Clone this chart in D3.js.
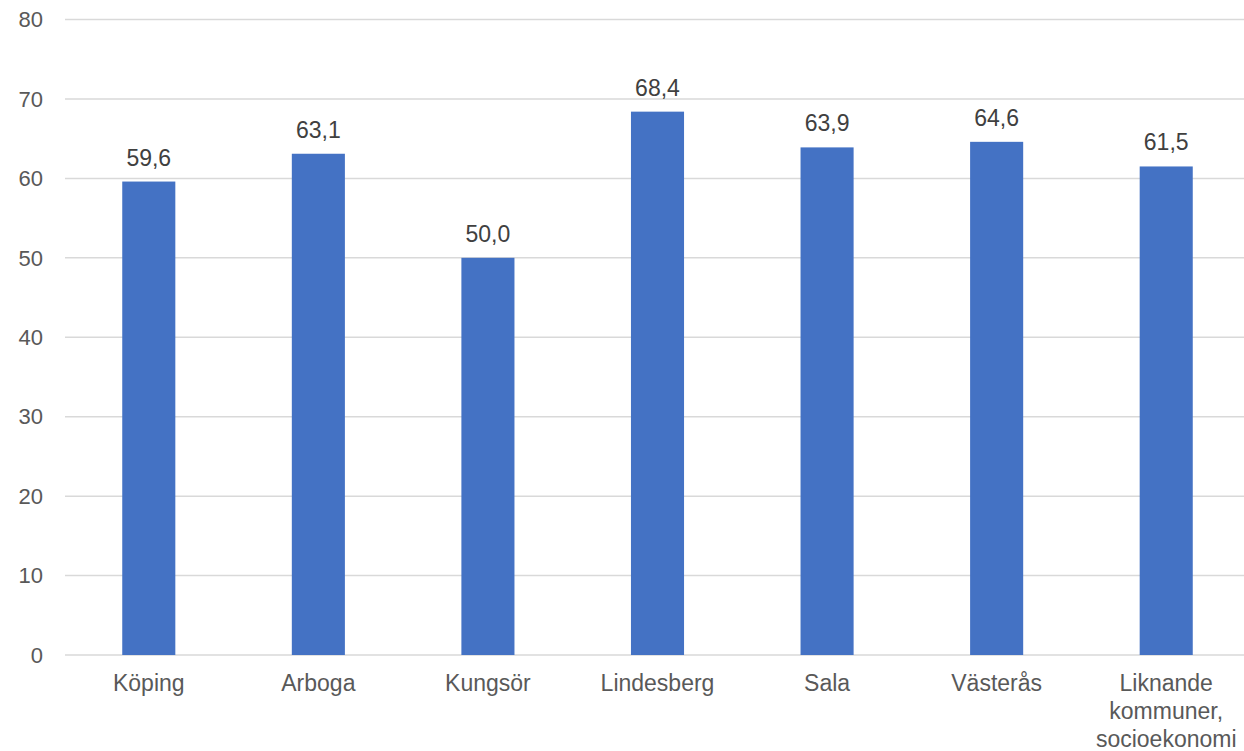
<!DOCTYPE html>
<html>
<head>
<meta charset="utf-8">
<script src="https://cdn.jsdelivr.net/npm/d3@7"></script>
<style>
  body { margin: 0; background: #fff; }
  svg text { font-family: Arial, "Liberation Sans", sans-serif; }
</style>
</head>
<body>
<svg id="chart" width="1244" height="751"></svg>
<script>
// categories and values
const categories = ["Köping", "Arboga", "Kungsör", "Lindesberg", "Sala", "Västerås", "Liknande kommuner, socioekonomi"];
const values = [59.6, 63.1, 50.0, 68.4, 63.9, 64.6, 61.5];
const yTicks = [0, 10, 20, 30, 40, 50, 60, 70, 80];

// category labels are wrapped over lines like in the original
const categoryLines = {
  "Liknande kommuner, socioekonomi": ["Liknande", "kommuner,", "socioekonomi"],
};

const data = categories.map((c, i) => ({ name: c, value: values[i] }));

const svg = d3.select("#chart");

// plot area
const plotLeft = 64, plotRight = 1251, plotTop = 19.5, plotBottom = 655;

const x = d3.scaleBand()
  .domain(categories)
  .range([plotLeft, plotRight])
  .paddingInner(0.687)
  .paddingOuter(0.3435);

const y = d3.scaleLinear()
  .domain([0, 80])
  .range([plotBottom, plotTop]);

// horizontal gridlines
svg.append("g")
  .selectAll("line")
  .data(yTicks)
  .enter()
  .append("line")
  .attr("x1", 65)
  .attr("x2", 1244)
  .attr("y1", (d) => y(d))
  .attr("y2", (d) => y(d))
  .attr("stroke", "#d9d9d9")
  .attr("stroke-width", 1.5);

// y tick labels
svg.append("g")
  .selectAll("text")
  .data(yTicks)
  .enter()
  .append("text")
  .attr("x", 43)
  .attr("y", (d) => y(d))
  .attr("dy", "0.35em")
  .attr("text-anchor", "end")
  .attr("font-size", 22)
  .attr("fill", "#595959")
  .text((d) => d);

// bars
svg.append("g")
  .selectAll("rect")
  .data(data)
  .enter()
  .append("rect")
  .attr("x", (d) => x(d.name))
  .attr("width", x.bandwidth())
  .attr("y", (d) => y(d.value))
  .attr("height", (d) => y(0) - y(d.value))
  .attr("fill", "#4472c4");

// value labels above the bars
svg.append("g")
  .selectAll("text")
  .data(data)
  .enter()
  .append("text")
  .attr("x", (d) => x(d.name) + x.bandwidth() / 2)
  .attr("y", (d) => y(d.value) - 16)
  .attr("text-anchor", "middle")
  .attr("font-size", 23)
  .attr("fill", "#404040")
  .text((d) => d3.format(".1f")(d.value).replace(".", ","));

// category labels
const catLabel = svg.append("g")
  .selectAll("text")
  .data(categories)
  .enter()
  .append("text")
  .attr("x", (d) => x(d) + x.bandwidth() / 2)
  .attr("y", 691)
  .attr("text-anchor", "middle")
  .attr("font-size", 23)
  .attr("fill", "#595959");

catLabel.selectAll("tspan")
  .data((d) => categoryLines[d] || [d])
  .enter()
  .append("tspan")
  .attr("x", function () { return d3.select(this.parentNode).attr("x"); })
  .attr("dy", (d, i) => (i === 0 ? 0 : 28))
  .text((d) => d);
</script>
</body>
</html>
